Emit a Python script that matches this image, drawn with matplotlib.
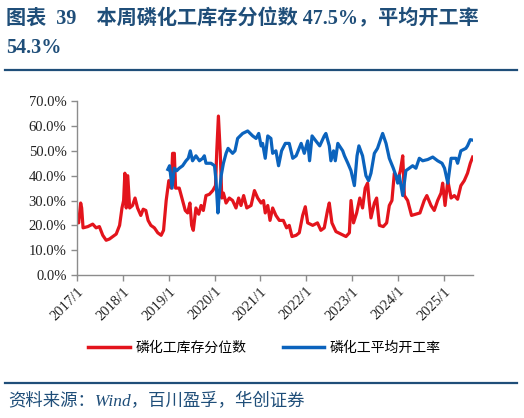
import numpy as np
import pandas as pd
import matplotlib
matplotlib.use("Agg")
import matplotlib.pyplot as plt
from matplotlib.lines import Line2D

# 磷化工库存分位数 (%)
kc_dates = ["2017-01-01", "2017-01-14", "2017-01-30", "2017-02-07", "2017-02-18", "2017-03-28",
            "2017-05-06", "2017-06-02", "2017-06-28", "2017-07-25", "2017-08-21", "2017-09-16",
            "2017-10-13", "2017-11-09", "2017-12-06", "2017-12-25", "2018-01-07", "2018-01-17",
            "2018-01-28", "2018-02-09", "2018-02-24", "2018-03-19", "2018-04-08", "2018-04-28",
            "2018-05-24", "2018-06-12", "2018-07-03", "2018-07-21", "2018-08-12", "2018-09-09",
            "2018-10-06", "2018-11-02", "2018-11-21", "2018-12-12", "2019-01-02", "2019-01-21",
            "2019-02-01", "2019-02-15", "2019-02-25", "2019-03-26", "2019-04-22", "2019-05-13",
            "2019-06-01", "2019-06-19", "2019-07-03", "2019-07-16", "2019-08-06", "2019-08-28",
            "2019-09-16", "2019-10-04", "2019-10-25", "2019-11-21", "2019-12-18", "2020-01-09",
            "2020-01-19", "2020-02-01", "2020-02-15", "2020-02-28", "2020-03-12", "2020-04-02",
            "2020-04-28", "2020-05-24", "2020-06-20", "2020-07-11", "2020-07-30", "2020-08-20",
            "2020-09-14", "2020-10-18", "2020-11-14", "2020-12-10", "2021-01-06", "2021-01-25",
            "2021-02-08", "2021-02-28", "2021-03-18", "2021-04-08", "2021-05-04", "2021-05-31",
            "2021-07-02", "2021-07-28", "2021-08-18", "2021-09-09", "2021-10-12", "2021-11-06",
            "2021-12-03", "2021-12-24", "2022-01-12", "2022-02-21", "2022-03-31", "2022-04-27",
            "2022-05-24", "2022-06-19", "2022-07-03", "2022-07-24", "2022-08-25", "2022-10-04",
            "2022-11-13", "2022-12-10", "2022-12-23", "2023-01-12", "2023-02-06", "2023-03-03",
            "2023-03-25", "2023-04-15", "2023-05-04", "2023-05-16", "2023-05-31", "2023-06-27",
            "2023-07-15", "2023-08-06", "2023-09-06", "2023-10-03", "2023-10-24", "2023-11-14",
            "2023-12-03", "2023-12-30", "2024-01-20", "2024-02-08", "2024-02-21", "2024-03-18",
            "2024-04-18", "2024-05-23", "2024-06-24", "2024-07-28", "2024-08-18", "2024-09-20",
            "2024-10-16", "2024-11-12", "2024-12-09", "2024-12-22", "2025-01-10", "2025-02-01",
            "2025-02-27", "2025-03-25", "2025-04-20", "2025-05-16", "2025-06-12", "2025-07-08",
            "2025-07-30", "2025-08-18"]
kc_vals = [23, 21, 29, 27, 19, 19.5,
           20.5, 19, 19.5, 16, 14, 14.5,
           15.5, 16.5, 20, 27, 30, 41,
           27, 40, 27, 28, 31, 27,
           24, 26.5, 26, 22, 20, 19,
           17, 16, 18, 30, 38, 35,
           49, 49, 35, 35, 30, 26,
           25, 29, 20, 18, 27, 24.5,
           28, 26, 32, 32.5, 34, 36,
           50, 64, 50, 31, 33, 29,
           31, 30, 27, 31, 28, 32,
           27, 28, 34, 31, 29, 30,
           25, 28, 22, 27, 24, 22,
           22, 19, 20, 15.5, 16, 17,
           24, 27.5, 21, 20, 21, 18,
           19, 26, 29, 21, 17.5, 16.5,
           15.5, 17, 30, 21, 25, 31,
           27, 35, 37, 30, 23, 29,
           31, 20, 19.5, 21, 28, 30,
           41, 38, 42, 48, 32, 30,
           24, 24.5, 25, 30, 32, 28,
           26, 30, 33, 37, 28, 38,
           31, 32, 30.5, 36, 38, 41,
           45, 47.5]

# 磷化工平均开工率 (%)
kg_dates = ["2018-12-25", "2019-01-08", "2019-01-28", "2019-02-15", "2019-03-06", "2019-03-26",
            "2019-04-22", "2019-05-19", "2019-06-06", "2019-06-22", "2019-07-10", "2019-08-06",
            "2019-09-03", "2019-09-29", "2019-10-12", "2019-10-25", "2019-12-04", "2020-01-01",
            "2020-01-13", "2020-01-28", "2020-02-09", "2020-02-23", "2020-03-12", "2020-04-02",
            "2020-04-18", "2020-05-24", "2020-06-12", "2020-07-03", "2020-08-12", "2020-09-21",
            "2020-10-31", "2020-11-27", "2020-12-18", "2021-01-06", "2021-01-18", "2021-02-08",
            "2021-02-28", "2021-03-25", "2021-04-08", "2021-05-04", "2021-05-25", "2021-06-18",
            "2021-07-18", "2021-08-18", "2021-09-15", "2021-10-12", "2021-11-21", "2021-12-16",
            "2022-01-12", "2022-01-27", "2022-02-16", "2022-03-18", "2022-04-18", "2022-05-24",
            "2022-06-06", "2022-07-03", "2022-07-16", "2022-08-06", "2022-08-20", "2022-09-09",
            "2022-10-18", "2022-11-01", "2022-11-28", "2022-12-23", "2023-01-19", "2023-02-09",
            "2023-02-24", "2023-03-25", "2023-04-21", "2023-05-12", "2023-05-31", "2023-06-27",
            "2023-07-22", "2023-08-18", "2023-09-01", "2023-09-28", "2023-10-24", "2023-11-25",
            "2023-12-16", "2023-12-30", "2024-01-12", "2024-02-08", "2024-03-04", "2024-03-31",
            "2024-04-27", "2024-05-23", "2024-06-19", "2024-07-16", "2024-08-25", "2024-10-04",
            "2024-11-12", "2024-12-17", "2025-01-06", "2025-02-01", "2025-02-27", "2025-04-07",
            "2025-04-20", "2025-05-16", "2025-06-25", "2025-07-08", "2025-07-30", "2025-08-18"]
kg_vals = [42.5, 44, 35, 43, 42, 43,
           44, 46, 47, 50, 46, 48,
           46, 47, 48, 45, 45, 44,
           38, 25, 33, 40, 45, 49,
           51, 49, 50, 55, 57, 58,
           56, 55, 57, 52, 53, 47,
           56, 55, 49, 50, 44, 50,
           53, 53, 47, 48, 53, 49,
           54, 46, 56, 54, 52, 56,
           57, 52, 46, 50, 46, 53,
           50, 48, 45, 42, 36, 48,
           52, 48, 40, 38, 41, 49,
           51, 55, 57, 53, 47, 43,
           40, 37, 40, 32, 42, 43,
           44, 43, 47, 46, 46.5, 47.5,
           46, 45, 43, 37, 47, 47,
           45, 50, 51, 52, 54.5, 54.3]

x_years = ["2017/1", "2018/1", "2019/1", "2020/1", "2021/1", "2022/1", "2023/1", "2024/1", "2025/1"]

title_color = "#1F4E79"
red = "#E3141C"
blue = "#0B63BD"
cjk = ["Liberation Serif", "Noto Sans CJK SC"]

fig = plt.figure(figsize=(5.24, 4.18), dpi=100)
ax = fig.add_axes([0.147, 0.342, 0.756, 0.416])

kc = pd.Series(kc_vals, index=pd.to_datetime(kc_dates)) / 100
kg = pd.Series(kg_vals, index=pd.to_datetime(kg_dates)) / 100

ax.plot(kc.index, kc.values, color=red, lw=2.3, solid_joinstyle="round")
ax.plot(kg.index, kg.values, color=blue, lw=2.3, solid_joinstyle="round")

ax.set_ylim(0, 0.7)
ax.set_yticks(np.arange(0, 0.71, 0.1))
ax.set_yticklabels([f"{v*100:.1f}%" for v in np.arange(0, 0.71, 0.1)],
                   fontfamily="Liberation Serif", fontsize=10.5)
ax.set_xlim(pd.Timestamp("2017-01-01"), pd.Timestamp("2025-08-22"))
ticks = [pd.Timestamp(f"{y[:4]}-01-01") for y in x_years]
ax.set_xticks(ticks)
ax.set_xticklabels(x_years, rotation=45, ha="right", rotation_mode="anchor",
                   fontfamily="Liberation Serif", fontsize=10.5)

for s in ["top", "right"]:
    ax.spines[s].set_visible(False)
for s in ["left", "bottom"]:
    ax.spines[s].set_color("#8C8C8C")
    ax.spines[s].set_linewidth(1.0)
ax.tick_params(axis="both", colors="#8C8C8C", labelcolor="#222222", length=4, width=1)
ax.tick_params(axis="x", pad=3)

# 标题
fig.text(0.012, 0.955, "图表  39　本周磷化工库存分位数 47.5%，平均开工率",
         fontfamily=cjk, fontsize=14.5, fontweight="bold", color=title_color, va="center")
fig.text(0.012, 0.885, "54.3%", fontfamily=cjk, fontsize=14.5, fontweight="bold",
         color=title_color, va="center")
fig.add_artist(Line2D([0.01, 0.987], [0.833, 0.833], color=title_color, lw=1.6))

# 图例
handles = [Line2D([], [], color=red, lw=2.5), Line2D([], [], color=blue, lw=2.5)]
fig.legend(handles, ["磷化工库存分位数", "磷化工平均开工率"], loc="center",
           bbox_to_anchor=(0.505, 0.167), ncol=2, frameon=False,
           prop={"family": "Noto Sans CJK SC", "size": 10},
           handlelength=3.0, columnspacing=2.6, handletextpad=0.4)

# 来源
fig.add_artist(Line2D([0.01, 0.987], [0.084, 0.084], color=title_color, lw=1.6))
fig.text(0.015, 0.04, "资料来源：Wind，百川盈孚，华创证券", fontfamily=cjk, fontsize=12.5,
         style="italic", color=title_color, va="center")

fig.savefig("out.png", dpi=100)
